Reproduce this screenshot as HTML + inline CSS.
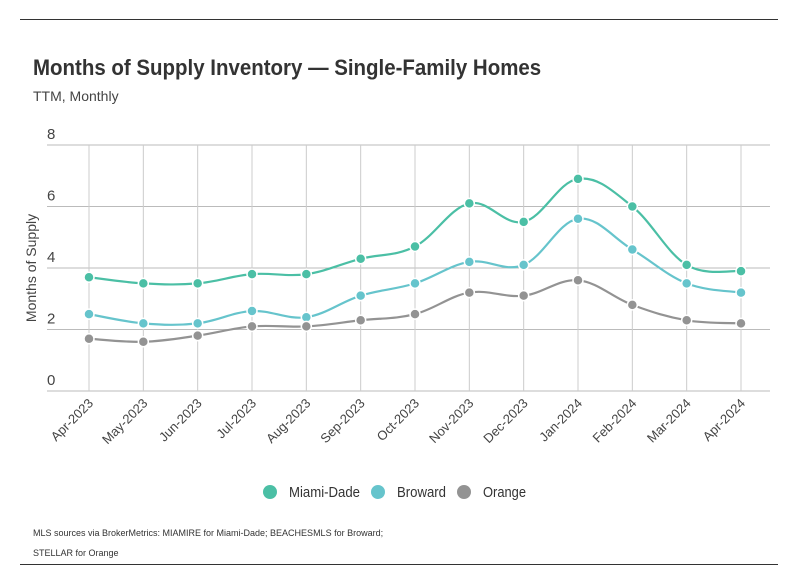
<!DOCTYPE html>
<html><head><meta charset="utf-8"><style>
body{margin:0;background:#fff;font-family:"Liberation Sans",sans-serif;}
#wrap{position:relative;width:798px;height:575px;overflow:hidden;}
.t{position:absolute;white-space:nowrap;}
</style></head><body>
<div id="wrap">
<div class="t" style="left:20px;top:19px;width:758px;height:1px;background:#333"></div>
<div class="t" style="left:33px;top:55px;font-size:22px;font-weight:bold;color:#333;transform:scaleX(0.93);transform-origin:left top">Months of Supply Inventory — Single-Family Homes</div>
<div class="t" style="left:33px;top:88px;font-size:14px;color:#444">TTM, Monthly</div>
<svg id="chart" width="798" height="575" style="position:absolute;left:0;top:0"></svg>
<div class="t" style="left:33px;top:528px;font-size:9px;color:#333">MLS sources via BrokerMetrics: MIAMIRE for Miami-Dade; BEACHESMLS for Broward;</div>
<div class="t" style="left:33px;top:548px;font-size:9px;color:#333">STELLAR for Orange</div>
<div class="t" style="left:20px;top:564px;width:758px;height:1px;background:#333"></div>
</div>
<script>
const categories=["Apr-2023","May-2023","Jun-2023","Jul-2023","Aug-2023","Sep-2023","Oct-2023","Nov-2023","Dec-2023","Jan-2024","Feb-2024","Mar-2024","Apr-2024"];
const miamiDade=[3.7,3.5,3.5,3.8,3.8,4.3,4.7,6.1,5.5,6.9,6.0,4.1,3.9];
const broward=[2.5,2.2,2.2,2.6,2.4,3.1,3.5,4.2,4.1,5.6,4.6,3.5,3.2];
const orange=[1.7,1.6,1.8,2.1,2.1,2.3,2.5,3.2,3.1,3.6,2.8,2.3,2.2];
const yTicks=[0,2,4,6,8];
const seriesNames=["Miami-Dade","Broward","Orange"];
const NS="http://www.w3.org/2000/svg";
const FF="Liberation Sans, sans-serif";
const svg=document.getElementById('chart');
const x=i=>89+i*(741-89)/(categories.length-1);
const y=v=>391-v*(391-145)/8;
function mk(t,a,p){const e=document.createElementNS(NS,t);for(const k in a)e.setAttribute(k,a[k]);(p||svg).appendChild(e);return e;}
yTicks.forEach(v=>{
 const l=mk('line',{x1:47,x2:770,y1:y(v),y2:y(v),stroke:'#bbb','stroke-width':1});
 
 
 const t=mk('text',{x:47,y:y(v)-6,'font-size':15,fill:'#444','font-family':FF});
 t.textContent=v;
 
 
});
categories.forEach((c,i)=>{
 const l=mk('line',{x1:x(i),x2:x(i),y1:145,y2:391,stroke:'#ccc','stroke-width':1});
 
 
 const t=mk('text',{x:0,y:0,'font-size':13,fill:'#444','text-anchor':'end','font-family':FF,transform:`translate(${x(i)+5},${404}) rotate(-45)`});
 t.textContent=c;
 
 
});
const yt=mk('text',{x:0,y:0,'font-size':14,fill:'#444','text-anchor':'middle','font-family':FF,transform:'translate(36,268) rotate(-90)'});
yt.textContent='Months of Supply';


function path(vals){
 const p=vals.map((v,i)=>[x(i),y(v)]);
 let d=`M${p[0][0]},${p[0][1]}`;
 for(let i=0;i<p.length-1;i++){
  const p0=p[Math.max(0,i-1)],p1=p[i],p2=p[i+1],p3=p[Math.min(p.length-1,i+2)];
  const s=0.18;
  d+=` C${p1[0]+(p2[0]-p0[0])*s},${p1[1]+(p2[1]-p0[1])*s} ${p2[0]-(p3[0]-p1[0])*s},${p2[1]-(p3[1]-p1[1])*s} ${p2[0]},${p2[1]}`;
 }
 return d;
}
const colors=['#4bbfa5','#66c4cc','#939393'];
[miamiDade,broward,orange].forEach((vals,si)=>{
 const pa=mk('path',{d:path(vals),fill:'none',stroke:colors[si],'stroke-width':2.2});
 
 
 vals.forEach((v,i)=>{
  const c=mk('circle',{cx:x(i),cy:y(v),r:5,fill:colors[si],stroke:'#fff','stroke-width':1.5});
  
  
 });
});
const lx=[270,378,464];
const lw=[71,49,43];
seriesNames.forEach((n,i)=>{
 const c=mk('circle',{cx:lx[i],cy:492,r:7,fill:colors[i]});
 
 
 const t=mk('text',{x:lx[i]+19,y:497,'font-size':15,fill:'#333','font-family':FF,textLength:lw[i],lengthAdjust:'spacingAndGlyphs'});
 t.textContent=n;
 
 
});
</script>
</body></html>
